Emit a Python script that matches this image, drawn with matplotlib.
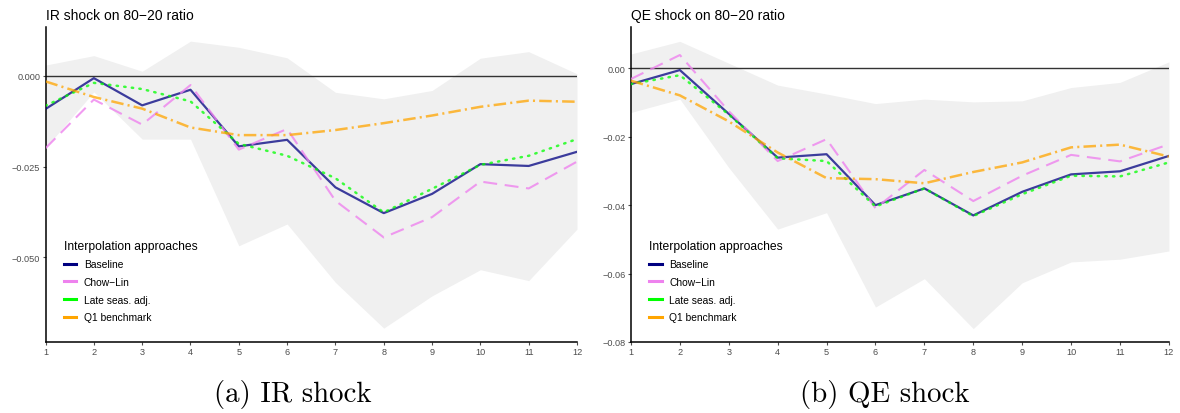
import numpy as np
import matplotlib
matplotlib.use("Agg")
import matplotlib.pyplot as plt
from matplotlib.lines import Line2D

plt.rcParams['font.family'] = ['Liberation Sans', 'DejaVu Sans']
plt.rcParams['lines.scale_dashes'] = False

# --- data ---
horizon = np.arange(1, 13)

# IR shock
ir_baseline = [-0.0091, -0.0006, -0.0081, -0.0038, -0.0194, -0.0176, -0.0307, -0.0378, -0.0325, -0.0243, -0.0248, -0.0209]
ir_chowlin = [-0.0199, -0.0065, -0.0134, -0.0025, -0.0203, -0.0146, -0.0344, -0.0445, -0.0389, -0.0291, -0.0310, -0.0236]
ir_lateseas = [-0.0082, -0.0019, -0.0036, -0.0070, -0.0187, -0.0220, -0.0282, -0.0376, -0.0311, -0.0245, -0.0220, -0.0174]
ir_q1 = [-0.0015, -0.0058, -0.0090, -0.0142, -0.0163, -0.0163, -0.0149, -0.0130, -0.0109, -0.0085, -0.0068, -0.0071]
ir_upper = [0.0030, 0.0056, 0.0013, 0.0096, 0.0079, 0.0050, -0.0045, -0.0063, -0.0040, 0.0049, 0.0067, 0.0006]
ir_lower = [-0.0198, -0.0044, -0.0174, -0.0174, -0.0468, -0.0408, -0.0569, -0.0695, -0.0606, -0.0534, -0.0564, -0.0422]

# QE shock
qe_baseline = [-0.0046, -0.0005, -0.0133, -0.0261, -0.0251, -0.0400, -0.0351, -0.0430, -0.0361, -0.0310, -0.0301, -0.0256]
qe_chowlin = [-0.0031, 0.0039, -0.0125, -0.0271, -0.0207, -0.0409, -0.0297, -0.0388, -0.0314, -0.0253, -0.0272, -0.0222]
qe_lateseas = [-0.0046, -0.0020, -0.0135, -0.0263, -0.0271, -0.0404, -0.0351, -0.0432, -0.0368, -0.0314, -0.0316, -0.0275]
qe_q1 = [-0.0036, -0.0079, -0.0155, -0.0246, -0.0321, -0.0324, -0.0336, -0.0303, -0.0275, -0.0231, -0.0223, -0.0258]
qe_upper = [0.0042, 0.0079, 0.0015, -0.0049, -0.0075, -0.0103, -0.0090, -0.0098, -0.0095, -0.0056, -0.0041, 0.0019]
qe_lower = [-0.0129, -0.0090, -0.0290, -0.0470, -0.0422, -0.0698, -0.0615, -0.0761, -0.0627, -0.0566, -0.0558, -0.0534]

labels = ['Baseline', 'Chow\u2212Lin', 'Late seas. adj.', 'Q1 benchmark']
colors = ['#000080', '#EE82EE', '#00FF00', '#FFA500']

ir_ticks = [0.0, -0.025, -0.05]
ir_ticklabels = ['0.000', '\u22120.025', '\u22120.050']
qe_ticks = [0.0, -0.02, -0.04, -0.06, -0.08]
qe_ticklabels = ['0.00', '\u22120.02', '\u22120.04', '\u22120.06', '\u22120.08']

styles = [
    dict(linestyle='-', lw=1.6, alpha=0.75),
    dict(dashes=(10, 5.5), lw=1.5, alpha=0.8),
    dict(dashes=(1.0, 4.5), lw=1.8, alpha=0.75, dash_capstyle='round'),
    dict(dashes=(9, 3, 1.5, 3), lw=1.8, alpha=0.75),
]


def draw_panel(ax, series, upper, lower, ylim, ticks, ticklabels, title):
    ax.fill_between(horizon, lower, upper, color='#F0F0F0', lw=0, zorder=1)
    ax.axhline(0, color='#333333', lw=1.0, zorder=2)
    for s, c, st in zip(series, colors, styles):
        ax.plot(horizon, s, color=c, zorder=3, **st)
    ax.set_xlim(1, 12)
    ax.set_ylim(*ylim)
    ax.set_xticks(horizon)
    ax.set_yticks(ticks)
    ax.set_yticklabels(ticklabels)
    ax.tick_params(labelsize=6.6, colors='#4D4D4D', length=2.2, width=0.8, pad=1.5)
    for side in ['top', 'right']:
        ax.spines[side].set_visible(False)
    for side in ['left', 'bottom']:
        ax.spines[side].set_linewidth(1.1)
        ax.spines[side].set_color('black')
    ax.set_title(title, loc='left', fontsize=10, pad=6)
    handles = [Line2D([], [], color=c, lw=2.2) for c in colors]
    leg = ax.legend(handles, labels, title='Interpolation approaches', loc='upper left',
                    bbox_to_anchor=(0.034, 0.326), frameon=False, fontsize=7.4,
                    title_fontsize=8.7, alignment='left', borderaxespad=0, borderpad=0,
                    handlelength=1.2, handletextpad=0.75, labelspacing=0.75)
    leg.get_title().set_color('black')


fig = plt.figure(figsize=(11.8, 4.14), dpi=100)
ax1 = fig.add_axes([0.0386, 0.1708, 0.4504, 0.7616])
ax2 = fig.add_axes([0.5347, 0.1708, 0.4559, 0.7616])

draw_panel(ax1, [ir_baseline, ir_chowlin, ir_lateseas, ir_q1], ir_upper, ir_lower,
           (-0.0734, 0.0135), ir_ticks, ir_ticklabels, 'IR shock on 80\u221220 ratio')
draw_panel(ax2, [qe_baseline, qe_chowlin, qe_lateseas, qe_q1], qe_upper, qe_lower,
           (-0.0801, 0.0121), qe_ticks, qe_ticklabels, 'QE shock on 80\u221220 ratio')

fig.text(0.248, 0.046, '(a) IR shock', family='cmr10', fontsize=20.8, ha='center', va='center')
fig.text(0.750, 0.046, '(b) QE shock', family='cmr10', fontsize=20.8, ha='center', va='center')

fig.savefig('out.png', dpi=100)
